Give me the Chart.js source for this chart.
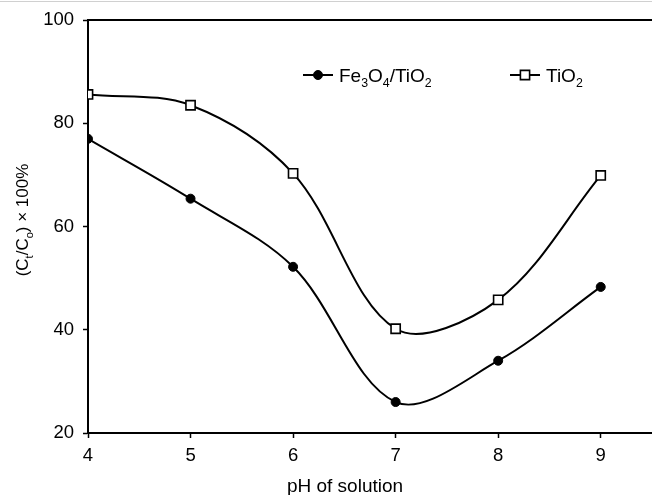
<!DOCTYPE html>
<html>
<head>
<meta charset="utf-8">
<script src="https://cdn.jsdelivr.net/npm/chart.js@4.4.1/dist/chart.umd.min.js"></script>
<style>
  html, body { margin: 0; padding: 0; background: #fff; }
  #wrap { width: 652px; height: 495px; position: relative; }
</style>
</head>
<body>
<div id="wrap"><canvas id="myChart"></canvas></div>
<script>
// data
const pH = [4, 5, 6, 7, 8, 9];
const fe3o4TiO2 = [77.0, 65.4, 52.2, 26.0, 34.0, 48.3];
const tiO2 = [85.6, 83.5, 70.3, 40.2, 45.8, 69.9];
const yTicks = [20, 40, 60, 80, 100];
const xTicks = [4, 5, 6, 7, 8, 9];

// labels with subscripts: [text, isSubscript]
const feLabel = [['Fe', 0], ['3', 1], ['O', 0], ['4', 1], ['/TiO', 0], ['2', 1]];
const tiLabel = [['TiO', 0], ['2', 1]];
const yTitle = [['(C', 0], ['t', 1], ['/C', 0], ['o', 1], [') \u00d7 100%', 0]];
const xTitle = [['pH of solution', 0]];

const FONT = 'Arial, "Liberation Sans", Helvetica, sans-serif';

function toPoints(ys) {
    return pH.map(function(x, i) { return { x: x, y: ys[i] }; });
}

function richWidth(ctx, parts, size) {
    let w = 0;
    parts.forEach(function(p) {
        ctx.font = (p[1] ? size * 0.65 : size) + 'px ' + FONT;
        w += ctx.measureText(p[0]).width;
    });
    return w;
}

function drawRich(ctx, parts, x, y, size) {
    ctx.textBaseline = 'alphabetic';
    ctx.textAlign = 'left';
    parts.forEach(function(p) {
        ctx.font = (p[1] ? size * 0.65 : size) + 'px ' + FONT;
        ctx.fillText(p[0], x, p[1] ? y + size * 0.28 : y);
        x += ctx.measureText(p[0]).width;
    });
}

const extras = {
    id: 'extras',
    afterDraw: function(chart) {
        const ctx = chart.ctx;
        const a = chart.chartArea;
        ctx.save();
        // faint rule at very top
        ctx.strokeStyle = '#d0d0d0';
        ctx.lineWidth = 1;
        ctx.beginPath(); ctx.moveTo(0, 1.5); ctx.lineTo(chart.width, 1.5); ctx.stroke();
        // top frame line
        ctx.strokeStyle = '#000';
        ctx.lineWidth = 2;
        ctx.beginPath(); ctx.moveTo(a.left, a.top); ctx.lineTo(a.right, a.top); ctx.stroke();

        // legend
        const entries = [
            { ds: chart.data.datasets[0], parts: feLabel, x: 303 },
            { ds: chart.data.datasets[1], parts: tiLabel, x: 510 }
        ];
        entries.forEach(function(e) {
            const ly = 75;
            ctx.strokeStyle = '#000';
            ctx.lineWidth = 2;
            ctx.beginPath(); ctx.moveTo(e.x, ly); ctx.lineTo(e.x + 30, ly); ctx.stroke();
            ctx.fillStyle = e.ds.pointBackgroundColor;
            ctx.strokeStyle = e.ds.pointBorderColor;
            ctx.lineWidth = e.ds.pointBorderWidth;
            Chart.helpers.drawPoint(ctx, {
                pointStyle: e.ds.pointStyle, radius: e.ds.pointRadius, rotation: 0,
                borderWidth: e.ds.pointBorderWidth
            }, e.x + 15, ly);
            ctx.fillStyle = '#000';
            drawRich(ctx, e.parts, e.x + 36, ly + 7, 19);
        });

        // axis titles
        ctx.fillStyle = '#000';
        const xw = richWidth(ctx, xTitle, 19);
        drawRich(ctx, xTitle, 345 - xw / 2, 492, 19);

        ctx.translate(28, 220);
        ctx.rotate(-Math.PI / 2);
        const yw = richWidth(ctx, yTitle, 17);
        drawRich(ctx, yTitle, -yw / 2, 0, 17);
        ctx.restore();
    }
};

const ctx = document.getElementById('myChart').getContext('2d');

new Chart(ctx, {
    type: 'line',
    data: {
        datasets: [
            {
                label: 'Fe3O4/TiO2',
                data: toPoints(fe3o4TiO2),
                borderColor: '#000',
                borderWidth: 2,
                tension: 0.34,
                pointStyle: 'circle',
                pointRadius: 4.5,
                pointBackgroundColor: '#000',
                pointBorderColor: '#000',
                pointBorderWidth: 1
            },
            {
                label: 'TiO2',
                data: toPoints(tiO2),
                borderColor: '#000',
                borderWidth: 2,
                tension: 0.34,
                pointStyle: 'rect',
                pointRadius: 6.5,
                pointBackgroundColor: '#fff',
                pointBorderColor: '#000',
                pointBorderWidth: 1.6
            }
        ]
    },
    options: {
        responsive: true,
        maintainAspectRatio: false,
        animation: false,
        layout: { autoPadding: false, padding: { top: 20, left: 0, right: 0, bottom: 0 } },
        plugins: {
            legend: { display: false },
            tooltip: { enabled: false }
        },
        scales: {
            x: {
                type: 'linear',
                min: 4,
                max: 9.5,
                afterBuildTicks: function(scale) {
                    scale.ticks = xTicks.map(function(v) { return { value: v }; });
                },
                afterFit: function(scale) {
                    scale.height = 62;
                    scale.paddingLeft = 0;
                    scale.paddingRight = 0;
                },
                grid: { drawOnChartArea: false, drawTicks: true, tickLength: 5, tickColor: '#000', tickWidth: 1.5 },
                border: { display: true, color: '#000', width: 2 },
                ticks: { color: '#000', padding: 7, font: { family: FONT, size: 18.5 }, maxRotation: 0, autoSkip: false }
            },
            y: {
                min: 20,
                max: 100,
                afterBuildTicks: function(scale) {
                    scale.ticks = yTicks.map(function(v) { return { value: v }; });
                },
                afterFit: function(scale) { scale.width = 88; },
                grid: { drawOnChartArea: false, drawTicks: true, tickLength: 5, tickColor: '#000', tickWidth: 1.5 },
                border: { display: true, color: '#000', width: 2 },
                ticks: { color: '#000', padding: 9, font: { family: FONT, size: 18.5 } }
            }
        }
    },
    plugins: [extras]
});
</script>
</body>
</html>
